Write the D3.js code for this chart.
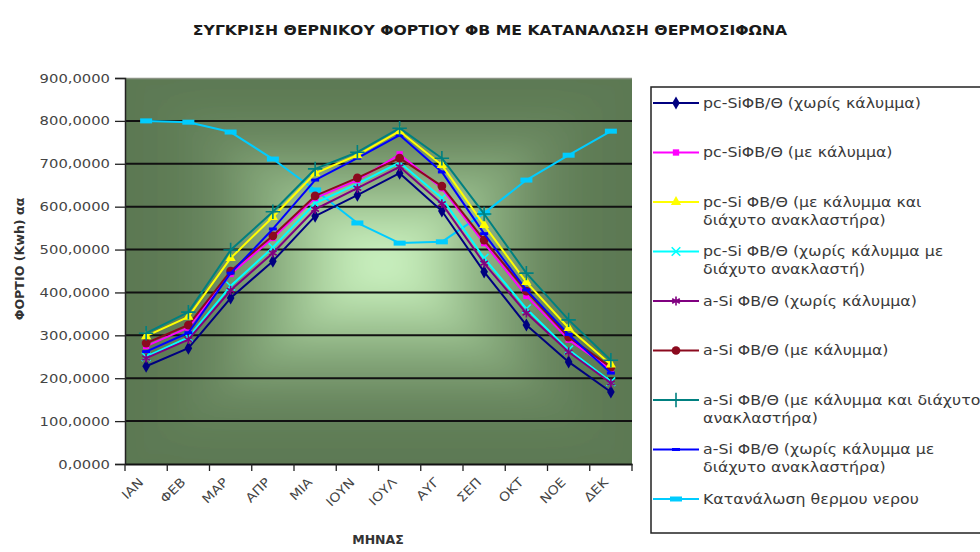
<!DOCTYPE html>
<html>
<head>
<meta charset="utf-8">
<script src="https://cdn.jsdelivr.net/npm/d3@7"></script>
<style>
  body { margin: 0; background: #fff; }
  svg { display: block; }
  text { font-family: "DejaVu Sans", Verdana, sans-serif; }
</style>
</head>
<body>
<svg id="chart" width="980" height="552"></svg>
<script>
// Months on the category axis
const months = ["ΙΑΝ", "ΦΕΒ", "ΜΑΡ", "ΑΠΡ", "ΜΙΑ", "ΙΟΥΝ", "ΙΟΥΛ", "ΑΥΓ", "ΣΕΠ", "ΟΚΤ", "ΝΟΕ", "ΔΕΚ"];

// Thermal load per month (kWh) for each collector configuration
const pcSiBare          = [228, 270, 387, 473, 578, 627, 678, 590, 448, 324, 238, 168];
const pcSiCovered       = [275, 318, 443, 527, 620, 662, 722, 643, 515, 392, 290, 220];
const pcSiCoveredRefl   = [298, 343, 480, 576, 678, 720, 776, 697, 557, 424, 317, 232];
const pcSiBareRefl      = [250, 295, 415, 505, 608, 653, 703, 620, 480, 362, 266, 192];
const aSiBare           = [247, 290, 405, 492, 594, 643, 693, 607, 468, 352, 261, 189];
const aSiCovered        = [282, 324, 450, 532, 625, 667, 713, 648, 522, 403, 296, 226];
const aSiCoveredRefl    = [305, 354, 499, 588, 688, 727, 783, 713, 583, 445, 336, 242];
const aSiBareRefl       = [262, 306, 445, 548, 662, 713, 767, 681, 537, 406, 302, 212];
// Hot-water consumption per month (kWh)
const hotWaterDemand    = [800, 797, 774, 711, 639, 562, 515, 518, 585, 662, 720, 776];

const yTicks = [0, 100, 200, 300, 400, 500, 600, 700, 800, 900];

const titleText = "ΣΥΓΚΡΙΣΗ ΘΕΡΝΙΚΟΥ ΦΟΡΤΙΟΥ ΦΒ ΜΕ ΚΑΤΑΝΑΛΩΣΗ ΘΕΡΜΟΣΙΦΩΝΑ";
const yTitle = "ΦΟΡΤΙΟ (Kwh) αα";
const xTitle = "ΜΗΝΑΣ";

const series = [
  { name: ["pc-SiΦΒ/Θ  (χωρίς κάλυμμα)"], values: pcSiBare, color: "#000080", marker: "diamond" },
  { name: ["pc-SiΦΒ/Θ (με κάλυμμα)"], values: pcSiCovered, color: "#ff00ff", marker: "square" },
  { name: ["pc-Si ΦΒ/Θ (με κάλυμμα και", "διάχυτο ανακλαστήρα)"], values: pcSiCoveredRefl, color: "#ffff00", marker: "triangle" },
  { name: ["pc-Si  ΦΒ/Θ (χωρίς κάλυμμα με", "διάχυτο ανακλαστή)"], values: pcSiBareRefl, color: "#00ffff", marker: "times" },
  { name: ["a-Si ΦΒ/Θ  (χωρίς κάλυμμα)"], values: aSiBare, color: "#800080", marker: "asterisk" },
  { name: ["a-Si ΦΒ/Θ (με κάλυμμα)"], values: aSiCovered, color: "#8b0a1e", marker: "circle" },
  { name: ["a-Si ΦΒ/Θ (με κάλυμμα και διάχυτο", "ανακλαστήρα)"], values: aSiCoveredRefl, color: "#008080", marker: "plus" },
  { name: ["a-Si ΦΒ/Θ (χωρίς κάλυμμα με", "διάχυτο ανακλαστήρα)"], values: aSiBareRefl, color: "#0000ff", marker: "dash" },
  { name: ["Κατανάλωση  θερμου νερου"], values: hotWaterDemand, color: "#00ccff", marker: "bar" }
];

const svg = d3.select("#chart");
const plot = { left: 125, right: 632, top: 78, bottom: 464 };

const x = d3.scaleBand().domain(months).range([plot.left, plot.right]);
const y = d3.scaleLinear().domain([0, 900]).range([plot.bottom, plot.top]);
const cx = m => x(m) + x.bandwidth() / 2;

// Stretch text horizontally to imitate the wide rounded face used in the chart
function widen(sel, factor) {
  sel.each(function () {
    const w = this.getComputedTextLength();
    d3.select(this).attr("textLength", w * factor).attr("lengthAdjust", "spacingAndGlyphs");
  });
}

// ---- Plot-area fill: rectangular "from centre" gradient built from four triangles,
// softened and clipped to the plot rectangle
const defs = svg.append("defs");
defs.append("clipPath").attr("id", "plotClip")
  .append("rect").attr("x", plot.left).attr("y", plot.top)
  .attr("width", plot.right - plot.left).attr("height", plot.bottom - plot.top);
defs.append("filter").attr("id", "soft").attr("x", "-20%").attr("y", "-20%")
  .attr("width", "140%").attr("height", "140%")
  .append("feGaussianBlur").attr("stdDeviation", 14);

const pad = 40;
const ex = { l: plot.left - pad, r: plot.right + pad, t: plot.top - pad, b: plot.bottom + pad };
const mx = (plot.left + plot.right) / 2 + 5, my = (plot.top + plot.bottom) / 2 - 8;
const stops = [
  [0, "#5a7650"], [0.28, "#5e7b55"], [0.45, "#6b8961"], [0.65, "#8cb081"], [0.85, "#b9e0ad"], [1, "#cef4c4"]
];
const quads = [
  { id: "gTop", x1: mx, y1: ex.t, x2: mx, y2: my, pts: [[ex.l, ex.t], [ex.r, ex.t], [mx, my]] },
  { id: "gBottom", x1: mx, y1: ex.b, x2: mx, y2: my, pts: [[ex.l, ex.b], [ex.r, ex.b], [mx, my]] },
  { id: "gLeft", x1: ex.l, y1: my, x2: mx, y2: my, pts: [[ex.l, ex.t], [ex.l, ex.b], [mx, my]] },
  { id: "gRight", x1: ex.r, y1: my, x2: mx, y2: my, pts: [[ex.r, ex.t], [ex.r, ex.b], [mx, my]] }
];
const bg = svg.append("g").attr("clip-path", "url(#plotClip)")
  .append("g").attr("filter", "url(#soft)");
quads.forEach(q => {
  const g = defs.append("linearGradient").attr("id", q.id)
    .attr("gradientUnits", "userSpaceOnUse")
    .attr("x1", q.x1).attr("y1", q.y1).attr("x2", q.x2).attr("y2", q.y2);
  stops.forEach(s => g.append("stop").attr("offset", s[0]).attr("stop-color", s[1]));
  bg.append("polygon")
    .attr("points", q.pts.map(p => p.join(",")).join(" "))
    .attr("fill", `url(#${q.id})`)
    .attr("stroke", `url(#${q.id})`).attr("stroke-width", 1);
});

// Thin grey edge along the top of the plot area
svg.append("line")
  .attr("x1", plot.left).attr("x2", plot.right)
  .attr("y1", plot.top + 0.5).attr("y2", plot.top + 0.5)
  .attr("stroke", "#8a9384").attr("stroke-width", 1.5);

// ---- Horizontal gridlines
svg.append("g").selectAll("line")
  .data(yTicks.filter(t => t > 0 && t < 900))
  .join("line")
  .attr("x1", plot.left).attr("x2", plot.right)
  .attr("y1", d => y(d)).attr("y2", d => y(d))
  .attr("stroke", "#111").attr("stroke-width", 2);

// ---- Axes
const yAxis = svg.append("g")
  .attr("transform", `translate(${plot.left},0)`)
  .call(d3.axisLeft(y).tickValues(yTicks).tickSize(10).tickPadding(5)
    .tickFormat(d => d.toFixed(4).replace(".", ",")));
yAxis.select(".domain").attr("stroke", "#222").attr("stroke-width", 1.5);
yAxis.selectAll(".tick line").attr("stroke", "#222").attr("stroke-width", 1.3);
yAxis.selectAll("text").attr("font-size", 12.5).attr("fill", "#444")
  .attr("font-family", "'DejaVu Sans', Verdana, sans-serif")
  .call(widen, 1.18);

const xAxis = svg.append("g")
  .attr("transform", `translate(0,${plot.bottom})`)
  .call(d3.axisBottom(x).tickSize(0).tickFormat(""));
xAxis.select(".domain").attr("stroke", "#111").attr("stroke-width", 2);
// tick marks on category boundaries
const bounds = months.map(m => x(m)).concat([plot.right]);
svg.append("g").selectAll("line").data(bounds).join("line")
  .attr("x1", d => d).attr("x2", d => d)
  .attr("y1", plot.bottom).attr("y2", plot.bottom + 7)
  .attr("stroke", "#222").attr("stroke-width", 1.3);
// rotated month labels
svg.append("g").selectAll("text").data(months).join("text")
  .attr("transform", d => `translate(${cx(d) - 2},${plot.bottom + 19}) rotate(-45)`)
  .attr("text-anchor", "end")
  .attr("font-size", 12.5).attr("fill", "#444")
  .text(d => d)
  .call(widen, 1.12);

// ---- Series lines and markers
const line = d3.line().x((d, i) => cx(months[i])).y(d => y(d));

function markerPath(type) {
  switch (type) {
    case "diamond": return d3.symbol(d3.symbolDiamond, 50)();
    case "square": return d3.symbol(d3.symbolSquare, 40)();
    case "triangle": return d3.symbol(d3.symbolTriangle, 45)();
    case "circle": return d3.symbol(d3.symbolCircle, 60)();
    case "times": return d3.symbol(d3.symbolTimes, 50)();
    case "asterisk": return d3.symbol(d3.symbolAsterisk, 55)();
    case "plus": return d3.symbol(d3.symbolPlus, 70)();
    case "dash": return "M-4,-1.5H4V1.5H-4Z";
    case "bar": return "M-6,-2.5H6V2.5H-6Z";
  }
}
const strokeMarkers = new Set(["times", "asterisk", "plus"]);

function drawMarker(sel, s) {
  if (strokeMarkers.has(s.marker)) {
    sel.attr("d", markerPath(s.marker)).attr("fill", "none")
      .attr("stroke", s.color).attr("stroke-width", 1.6);
  } else {
    sel.attr("d", markerPath(s.marker)).attr("fill", s.color).attr("stroke", "none");
  }
}

// consumption line underneath, then the load series
const drawOrder = [8, 0, 3, 4, 1, 5, 7, 2, 6];
drawOrder.forEach(k => {
  const s = series[k];
  const g = svg.append("g");
  g.append("path").datum(s.values)
    .attr("d", line).attr("fill", "none")
    .attr("stroke", s.color).attr("stroke-width", 2)
    .attr("stroke-linejoin", "round");
  g.selectAll("path.mk").data(s.values).join("path").attr("class", "mk")
    .attr("transform", (d, i) => `translate(${cx(months[i])},${y(d)})`)
    .call(drawMarker, s);
});

// ---- Titles
svg.append("text").attr("x", 490).attr("y", 35)
  .attr("text-anchor", "middle").attr("font-weight", "bold")
  .attr("font-size", 13.5).attr("fill", "#1a1a1a")
  .text(titleText)
  .call(widen, 1.16);

svg.append("text")
  .attr("transform", `translate(24,${(plot.top + plot.bottom) / 2 - 12}) rotate(-90)`)
  .attr("text-anchor", "middle").attr("font-weight", "bold")
  .attr("font-size", 12).attr("fill", "#333")
  .text(yTitle)
  .call(widen, 1.05);

svg.append("text").attr("x", 378).attr("y", 544)
  .attr("text-anchor", "middle").attr("font-weight", "bold")
  .attr("font-size", 12.5).attr("fill", "#333")
  .text(xTitle);

// ---- Legend
const legend = svg.append("g");
legend.append("rect")
  .attr("x", 651).attr("y", 87).attr("width", 340).attr("height", 446)
  .attr("fill", "#fff").attr("stroke", "#222").attr("stroke-width", 1.5);

series.forEach((s, i) => {
  const ly = 103 + i * 49.5;
  const g = legend.append("g");
  g.append("line").attr("x1", 653).attr("x2", 699).attr("y1", ly).attr("y2", ly)
    .attr("stroke", s.color).attr("stroke-width", 2);
  g.append("path").attr("transform", `translate(676,${ly})`).call(drawMarker, s);
  s.name.forEach((t, j) => {
    g.append("text").attr("x", 703).attr("y", ly + j * 18)
      .attr("dy", "0.35em").attr("font-size", 13.5).attr("fill", "#3a3a3a")
      .text(t)
      .call(widen, 1.17);
  });
});
</script>
</body>
</html>
